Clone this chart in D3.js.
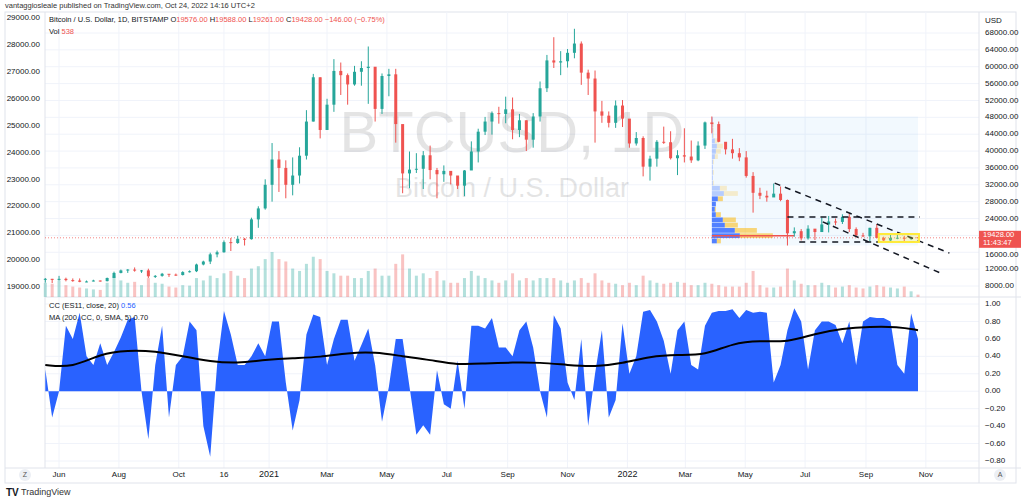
<!DOCTYPE html>
<html>
<head>
<meta charset="utf-8">
<script src="https://cdn.jsdelivr.net/npm/d3@7"></script>
<style>
  body { margin: 0; background: #fff; }
  svg text { font-family: "Liberation Sans", Arial, sans-serif; }
</style>
</head>
<body>
<svg id="chart" width="1024" height="502"></svg>
<script>
// weekly BTCUSD bars, week starting 2020-05-18
const closes = [9700,9450,9700,9400,9300,9000,9080,9300,9150,9900,11100,11700,11900,11650,11700,10300,10400,10900,10700,10600,
  11300,11500,13100,13800,15500,16000,18400,18200,19200,19100,23800,26400,32000,38000,36000,32000,34200,38900,47000,57500,
  45000,51000,59000,58000,55800,58800,59700,60000,50000,57800,58200,46400,34700,35600,35800,39000,35500,34500,35300,34200,
  31800,35400,39900,44600,47000,49000,48800,49900,45000,47300,42700,48200,54900,61500,61000,61300,63300,65500,58600,57200,
  49400,48400,46700,50800,47700,41800,43100,36300,38200,42200,42100,38300,39000,38700,37800,41300,46800,46400,42200,40400,
  39500,38500,34100,30100,29400,29000,29900,28400,20500,21000,19300,21600,20800,22600,23300,23200,24400,21500,20000,19800,
  21800,19400,18800,19400,19450,19200,19400,19428];
const highs = [9900,9700,10400,9980,9800,9800,9300,9480,9300,10000,11400,11900,12000,12400,11800,12100,10600,11100,10800,10950,
  11500,11700,13300,14000,15900,16400,18800,19400,19900,19400,24200,26900,33300,41900,40000,37800,38500,40900,49700,58300,
  57500,52400,61800,61000,58400,60200,61300,64800,57500,58400,59500,59500,46000,39900,39500,40000,41300,36000,36600,35100,
  34000,35500,42300,45300,48100,49400,50500,52900,52700,48800,47300,49000,56500,62800,67000,63700,64200,69000,66000,59300,
  59100,51900,49400,52000,52100,47600,44500,43500,38900,42600,45800,44700,40200,45400,42500,42300,47000,48200,47000,41500,
  42900,40700,40000,35000,31300,30600,32300,31600,28500,21900,21500,22400,21400,24200,24600,24000,25000,25200,21900,20600,
  21800,22700,19700,20200,20400,19900,19700,19588];
const lows = [8800,8700,9300,9100,9000,8900,8900,9100,9050,9100,9900,11000,11100,11400,11100,9900,9900,10200,10150,10400,
  10500,11200,11300,12900,13200,14800,15900,16300,18000,17600,19000,21800,26100,28000,30300,28800,29500,32300,38000,47000,
  43000,45000,49300,53300,51000,55500,55500,51200,47000,48800,53000,42000,30000,31200,34800,31000,33300,28800,32700,32100,
  31000,29300,35600,37300,43800,43900,46500,46600,42800,43300,40000,40800,47000,54000,59700,58000,59800,62000,55700,53300,
  42000,46700,45600,45500,45700,40800,41300,34000,33000,36300,41700,38000,34300,37300,37200,37600,40500,44200,42100,39200,
  38200,37600,33700,25400,28600,28000,29300,28100,17600,19700,18800,19000,18900,20800,20700,22400,22700,20800,19600,19600,
  18600,19300,18200,18500,19100,18200,18900,19261];
const volumes = [30,28,35,25,22,20,18,16,15,30,45,35,30,32,25,40,30,28,22,20,
  25,24,40,35,45,40,50,55,45,40,60,65,80,95,80,75,60,55,70,85,
  80,55,50,45,45,40,40,55,60,45,45,70,90,60,45,50,40,55,35,30,
  30,40,55,45,40,35,30,35,50,35,40,35,40,40,40,35,30,35,40,30,
  50,35,30,28,25,30,25,45,35,30,28,30,32,30,25,25,30,28,25,22,
  22,22,30,55,25,20,20,22,60,35,28,25,25,30,25,20,22,25,20,18,
  22,25,22,20,18,22,12,5];
const cc = [0.25,-0.3,0.0,0.75,0.6,0.9,0.4,0.3,0.55,0.3,0.45,0.62,0.82,0.85,0.0,-0.55,0.3,0.75,-0.3,0.3,
  0.4,0.8,0.7,-0.4,-0.75,0.3,0.92,0.65,0.3,0.3,0.4,0.55,0.4,0.8,0.8,0.1,-0.45,-0.1,0.65,0.88,
  0.85,0.3,0.6,0.82,0.82,0.35,0.53,0.72,0.3,-0.35,0.05,0.6,0.6,0.05,-0.5,-0.39,-0.5,0.24,-0.15,-0.2,
  0.35,-0.2,0.75,0.75,0.72,0.84,0.5,0.5,0.4,0.7,0.8,0.5,0.0,-0.3,0.87,0.72,0.1,-0.1,0.6,-0.4,
  0.2,0.7,-0.3,-0.1,0.78,0.2,0.4,0.91,0.93,0.8,0.58,0.2,0.7,0.8,0.3,0.25,0.75,0.9,0.92,0.92,
  0.94,0.84,0.93,0.9,0.91,0.9,0.1,0.3,0.7,0.95,0.8,0.25,0.7,0.8,0.8,0.76,0.55,0.8,0.3,0.8,
  0.85,0.84,0.84,0.8,0.3,0.2,0.89,0.6];
// 200-bar SMA of CC, sampled every 4 weeks (last = final week)
const ccMa = [0.3,0.27,0.43,0.47,0.46,0.4,0.34,0.32,0.36,0.38,0.39,0.44,0.45,0.4,0.36,0.3,0.32,0.33,0.33,0.3,
  0.28,0.32,0.4,0.42,0.41,0.55,0.58,0.56,0.66,0.72,0.74,0.74,0.70];

// volume profile, bins of 1250 USD from 18000 upward
const vpBase = 18000, vpStep = 1250;
const vpUp =   [5,28,23,13,11,4,3,4,6,12,8,1,1,1,1,1,3,4,5,3,1,1,1,1];
const vpDown = [4,33,22,13,13,5,1,0,5,14,7,1,0,1,0,1,3,5,6,4,1,1,1,0];
const vpValueArea = 9;

const timeTicks = [["2020-06-01","Jun"],["2020-08-01","Aug"],["2020-10-01","Oct"],["2020-11-16","16"],["2021-01-01","2021"],
  ["2021-03-01","Mar"],["2021-05-01","May"],["2021-07-01","Jul"],["2021-09-01","Sep"],["2021-11-01","Nov"],["2022-01-01","2022"],
  ["2022-03-01","Mar"],["2022-05-01","May"],["2022-07-01","Jul"],["2022-09-01","Sep"],["2022-11-01","Nov"]];
const priceTicks = [8000,12000,16000,20000,24000,28000,32000,36000,40000,44000,48000,52000,56000,60000,64000,68000];
const leftTicks = [19000,20000,21000,22000,23000,24000,25000,26000,27000,28000,29000];
const ccTicks = [1,0.8,0.6,0.4,0.2,0,-0.2,-0.4,-0.6,-0.8];

// drawings: [date1, price1, date2, price2]
const trendLines = [["2022-05-31",32400,"2022-11-25",15800],["2022-07-19",23200,"2022-11-18",10850],
  ["2022-06-13",24360,"2022-10-26",24360],["2022-06-25",18430,"2022-10-26",18430]];
const rangeBox = ["2022-03-28",17600,"2022-10-24",48200];
const pocLine = ["2022-03-28","2022-06-20",19900];
const yellowBox = ["2022-09-14",20330,"2022-10-25",18430];
const lastPrice = 19428;

const parse = d3.timeParse("%Y-%m-%d");
const start = parse("2020-05-18");
const weeks = closes.map((c, i) => ({
  date: d3.timeDay.offset(start, i * 7),
  open: i === 0 ? 9500 : closes[i - 1], close: c, high: highs[i], low: lows[i], vol: volumes[i], cc: cc[i]
}));
weeks[weeks.length - 1].open = 19576;

const svg = d3.select("#chart");
const L = 45, R = 979, T = 12, PB = 297, CB = 468;

const x = d3.scaleTime().domain([start, parse("2022-10-24")]).range([45.3, 918]);
const y = d3.scaleLinear().domain([8000, 68000]).range([286, 33]);
const yLeft = d3.scaleLinear().domain([19000, 29000]).range([287, 18]);
const yc = d3.scaleLinear().domain([-0.8, 1]).range([461, 304]);
const yv = d3.scaleLinear().domain([0, d3.max(volumes)]).range([PB, PB - 45]);

// frame
svg.append("rect").attr("x", 5).attr("y", T).attr("width", 1016 - 5).attr("height", 483 - T)
  .attr("fill", "none").attr("stroke", "#e0e3eb");
svg.append("text").attr("x", 5).attr("y", 8).attr("font-size", 7.5).attr("fill", "#333")
  .text("vantaggiosleale published on TradingView.com, Oct 24, 2022 14:16 UTC+2");

// grid
const grid = svg.append("g").attr("stroke", "#f0f3fa");
priceTicks.forEach(p => grid.append("line").attr("x1", L).attr("x2", R).attr("y1", y(p)).attr("y2", y(p)));
ccTicks.forEach(v => grid.append("line").attr("x1", L).attr("x2", R).attr("y1", yc(v)).attr("y2", yc(v)));
timeTicks.forEach(t => grid.append("line").attr("x1", x(parse(t[0]))).attr("x2", x(parse(t[0]))).attr("y1", T).attr("y2", CB));

// separators
[[L, T, L, CB], [R, T, R, 483], [L, PB, 1021, PB], [5, CB, 1021, CB]].forEach(s =>
  svg.append("line").attr("x1", s[0]).attr("y1", s[1]).attr("x2", s[2]).attr("y2", s[3]).attr("stroke", "#e0e3eb"));

// watermark
svg.append("text").attr("x", 512).attr("y", 152).attr("text-anchor", "middle").attr("font-size", 58)
  .attr("fill", "#000").attr("opacity", 0.1).text("BTCUSD, 1D");
svg.append("text").attr("x", 512).attr("y", 197).attr("text-anchor", "middle").attr("font-size", 27)
  .attr("fill", "#000").attr("opacity", 0.1).text("Bitcoin / U.S. Dollar");

// range box
svg.append("rect").attr("x", x(parse(rangeBox[0]))).attr("y", y(rangeBox[3]))
  .attr("width", x(parse(rangeBox[2])) - x(parse(rangeBox[0]))).attr("height", y(rangeBox[1]) - y(rangeBox[3]))
  .attr("fill", "#2196f3").attr("opacity", 0.06);

// volume profile
const vpX = x(parse(rangeBox[0]));
vpUp.forEach((u, i) => {
  const y0 = y(vpBase + vpStep * (i + 1)), h = y(vpBase + vpStep * i) - y0 - 0.5;
  const op = i < vpValueArea ? 0.8 : 0.3;
  svg.append("rect").attr("x", vpX).attr("y", y0).attr("width", u).attr("height", h).attr("fill", "#2962ff").attr("opacity", op);
  svg.append("rect").attr("x", vpX + u).attr("y", y0).attr("width", vpDown[i]).attr("height", h).attr("fill", "#fbc02d").attr("opacity", op * 0.8);
});

// volume bars
svg.append("g").selectAll("rect").data(weeks).join("rect")
  .attr("x", d => x(d.date) - 1.5).attr("width", 3)
  .attr("y", d => yv(d.vol)).attr("height", d => PB - yv(d.vol))
  .attr("fill", d => d.close >= d.open ? "#26a69a" : "#ef5350").attr("opacity", 0.35);

// last price line
svg.append("line").attr("x1", L).attr("x2", R).attr("y1", y(lastPrice)).attr("y2", y(lastPrice))
  .attr("stroke", "#ef5350").attr("stroke-dasharray", "1,2").attr("opacity", 0.7);
svg.append("line").attr("x1", x(parse(pocLine[0]))).attr("x2", x(parse(pocLine[1])))
  .attr("y1", y(pocLine[2])).attr("y2", y(pocLine[2])).attr("stroke", "#ef5350").attr("stroke-width", 1.5);

// candles
const cg = svg.append("g").selectAll("g").data(weeks).join("g")
  .attr("fill", d => d.close >= d.open ? "#26a69a" : "#ef5350")
  .attr("stroke", d => d.close >= d.open ? "#26a69a" : "#ef5350");
cg.append("line").attr("x1", d => x(d.date)).attr("x2", d => x(d.date))
  .attr("y1", d => y(d.high)).attr("y2", d => y(d.low));
cg.append("rect").attr("stroke", "none").attr("x", d => x(d.date) - 1.5).attr("width", 3)
  .attr("y", d => y(Math.max(d.open, d.close)))
  .attr("height", d => Math.max(1, Math.abs(y(d.open) - y(d.close))));

// drawings
trendLines.forEach(l => svg.append("line")
  .attr("x1", x(parse(l[0]))).attr("y1", y(l[1])).attr("x2", x(parse(l[2]))).attr("y2", y(l[3]))
  .attr("stroke", "#131722").attr("stroke-width", 1.5).attr("stroke-dasharray", "6,5"));
svg.append("rect").attr("x", x(parse(yellowBox[0]))).attr("y", y(yellowBox[1]))
  .attr("width", x(parse(yellowBox[2])) - x(parse(yellowBox[0]))).attr("height", y(yellowBox[3]) - y(yellowBox[1]))
  .attr("fill", "#ffeb3b").attr("fill-opacity", 0.25).attr("stroke", "#ffeb3b").attr("stroke-width", 2);

// CC pane
svg.append("path").datum(weeks)
  .attr("d", d3.area().x(d => x(d.date)).y0(yc(0)).y1(d => yc(d.cc)))
  .attr("fill", "#2962ff");
const maDates = ccMa.map((v, i) => i === ccMa.length - 1 ? weeks[weeks.length - 1].date : weeks[i * 4].date);
svg.append("path").datum(ccMa)
  .attr("d", d3.line().x((d, i) => x(maDates[i])).y(d => yc(d)).curve(d3.curveBasis))
  .attr("fill", "none").attr("stroke", "#000").attr("stroke-width", 2);

// axes labels (20000 hidden under the price tag, as in TradingView)
const lab = (xx, yy, t, o = {}) => svg.append("text").attr("x", xx).attr("y", yy).attr("font-size", o.size || 8)
  .attr("fill", o.fill || "#131722").attr("text-anchor", o.anchor || "start").attr("dominant-baseline", "middle").text(t);
priceTicks.filter(p => Math.abs(y(p) - y(lastPrice)) > 8).forEach(p => lab(985, y(p) + (p === 16000 ? 3 : 0), p.toFixed(2)));
lab(985, 21, "USD");
ccTicks.forEach(v => lab(985, yc(v), (v < 0 ? "\u2212" + (-v).toFixed(2) : v.toFixed(2))));
leftTicks.forEach(v => lab(40, yLeft(v), v.toFixed(2), { anchor: "end" }));
timeTicks.forEach(t => lab(x(parse(t[0])), 475, t[1], { anchor: "middle", size: t[1].length === 4 ? 9 : 8 }));

// price tag
svg.append("rect").attr("x", R).attr("y", y(lastPrice) - 7).attr("width", 42).attr("height", 17).attr("fill", "#ef5350");
lab(983, y(lastPrice) - 2.5, "19428.00", { fill: "#fff", size: 7.5 });
lab(983, y(lastPrice) + 5.5, "11:43:47", { fill: "#fff", size: 7.5 });

// circles Z / A
[[25, "Z"], [1000, "A"]].forEach(c => {
  svg.append("circle").attr("cx", c[0]).attr("cy", 475).attr("r", 6).attr("fill", "#eceff4");
  lab(c[0], 475.5, c[1], { anchor: "middle", size: 7, fill: "#555" });
});

// legends
const leg = svg.append("text").attr("x", 49).attr("y", 20).attr("font-size", 7.5).attr("dominant-baseline", "middle");
leg.append("tspan").attr("fill", "#131722").text("Bitcoin / U.S. Dollar, 1D, BITSTAMP  O");
leg.append("tspan").attr("fill", "#ef5350").text("19576.00");
leg.append("tspan").attr("fill", "#131722").text("  H");
leg.append("tspan").attr("fill", "#ef5350").text("19588.00");
leg.append("tspan").attr("fill", "#131722").text("  L");
leg.append("tspan").attr("fill", "#ef5350").text("19261.00");
leg.append("tspan").attr("fill", "#131722").text("  C");
leg.append("tspan").attr("fill", "#ef5350").text("19428.00  \u2212146.00 (\u22120.75%)");
const vl = svg.append("text").attr("x", 49).attr("y", 32).attr("font-size", 7.5).attr("dominant-baseline", "middle");
vl.append("tspan").attr("fill", "#131722").text("Vol  ");
vl.append("tspan").attr("fill", "#ef5350").text("538");
const c1 = svg.append("text").attr("x", 49).attr("y", 306).attr("font-size", 7.5).attr("dominant-baseline", "middle");
c1.append("tspan").attr("fill", "#131722").text("CC (ES11, close, 20)  ");
c1.append("tspan").attr("fill", "#2962ff").text("0.56");
lab(49, 318, "MA (200, CC, 0, SMA, 5)  0.70", { size: 7.5 });

// footer
svg.append("text").attr("x", 6).attr("y", 493).attr("font-size", 10).attr("font-weight", "bold").attr("fill", "#131722")
  .attr("dominant-baseline", "middle").text("TV");
lab(21, 493, "TradingView", { size: 9, fill: "#333" });
</script>
</body>
</html>
